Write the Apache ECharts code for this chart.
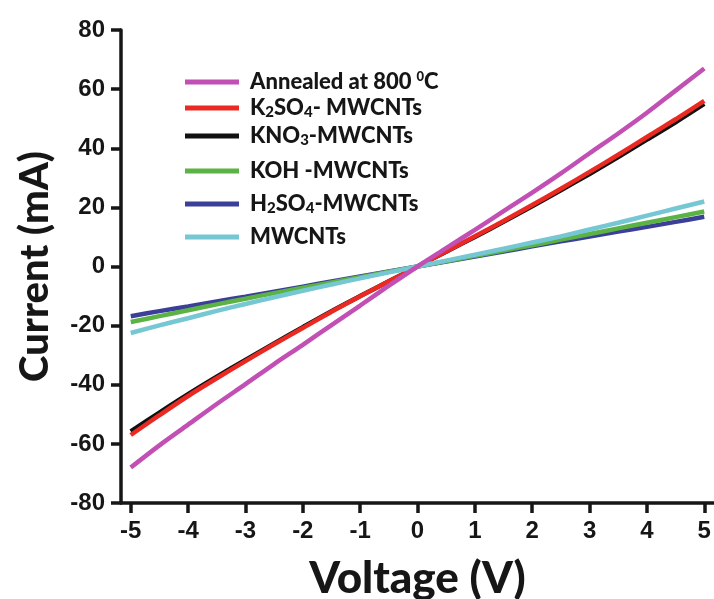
<!DOCTYPE html>
<html>
<head>
<meta charset="utf-8">
<script src="https://cdn.jsdelivr.net/npm/echarts@6/dist/echarts.min.js"></script>
<style>
  html, body { margin: 0; padding: 0; background: #fff; }
  #chart { width: 714px; height: 599px; }
</style>
</head>
<body>
<div id="chart"></div>
<script>
// Sweep voltage (V)
const voltage = [-5, -4.5, -4, -3.5, -3, -2.5, -2, -1.5, -1, -0.5, 0, 0.5, 1, 1.5, 2, 2.5, 3, 3.5, 4, 4.5, 5];

// Measured current (mA) for each sample
const annealed800 = [-68, -60.5, -53.5, -46.5, -39.8, -33, -26.5, -19.8, -13.2, -6.5, 0, 6.2, 12.4, 18.7, 25, 31.5, 38.3, 45, 52, 59.5, 67];
const k2so4 = [-57, -50.3, -43.8, -37.8, -32, -26.3, -20.8, -15.3, -10.1, -5, 0, 5.1, 10.2, 15.4, 20.8, 26.3, 32, 37.8, 43.8, 49.8, 56];
const kno3 = [-55.8, -49.4, -43.2, -37.3, -31.6, -26, -20.5, -15.1, -10, -5, 0, 5, 10, 15.1, 20.4, 25.8, 31.3, 37, 42.9, 48.8, 55];
const koh = [-18.8, -16.8, -14.8, -12.8, -10.9, -9, -7.2, -5.4, -3.6, -1.8, 0, 1.8, 3.6, 5.4, 7.2, 9.1, 11, 12.9, 14.8, 16.7, 18.6];
const h2so4 = [-16.8, -15.1, -13.5, -11.8, -10.2, -8.5, -6.8, -5.1, -3.4, -1.7, 0, 1.7, 3.4, 5.1, 6.8, 8.5, 10.1, 11.8, 13.4, 15.1, 16.8];
const mwcnts = [-22.5, -19.9, -17.5, -15, -12.7, -10.4, -8.2, -6.1, -4, -2, 0, 2, 4, 6, 8.1, 10.2, 12.5, 14.8, 17.2, 19.6, 22];

// Axis ticks
const xTicks = [-5, -4, -3, -2, -1, 0, 1, 2, 3, 4, 5];

const FONT = '"Liberation Sans", Arial, sans-serif';
const TITLE_FONT = 'Lato, "Liberation Sans", sans-serif';
const INK = '#161616';

// Series: name, legend label (rich text), colour, values, legend row centre
const seriesDefs = [
  { name: 'Annealed at 800 0C', label: '{t|Annealed at 800}{sup|0}{t|C}', color: '#c24fb4', values: annealed800, row: 77 },
  { name: 'K2SO4- MWCNTs', label: '{t|K}{sub|2}{t|SO}{sub|4}{t|- MWCNTs}', color: '#ea2a22', values: k2so4, row: 104 },
  { name: 'KNO3-MWCNTs', label: '{t|KNO}{sub|3}{t|-MWCNTs}', color: '#111111', values: kno3, row: 132 },
  { name: 'KOH -MWCNTs', label: '{t|KOH -MWCNTs}', color: '#5cb345', values: koh, row: 167 },
  { name: 'H2SO4-MWCNTs', label: '{t|H}{sub|2}{t|SO}{sub|4}{t|-MWCNTs}', color: '#3b3f98', values: h2so4, row: 200 },
  { name: 'MWCNTs', label: '{t|MWCNTs}', color: '#74c7d3', values: mwcnts, row: 233 }
];

// Drawing order: black under red, magenta on top
const drawOrder = ['KNO3-MWCNTs', 'K2SO4- MWCNTs', 'H2SO4-MWCNTs', 'KOH -MWCNTs', 'MWCNTs', 'Annealed at 800 0C'];

const rich = {
  t: { fontFamily: TITLE_FONT, fontWeight: 900, fontSize: 22, color: INK, lineHeight: 24 },
  sub: { fontFamily: TITLE_FONT, fontWeight: 900, fontSize: 15, color: INK, lineHeight: 15, verticalAlign: 'bottom' },
  sup: { fontFamily: TITLE_FONT, fontWeight: 900, fontSize: 13, color: INK, lineHeight: 13, verticalAlign: 'top', padding: [0, 0, 0, 5] }
};

const legends = seriesDefs.map(d => ({
  data: [d.name],
  left: 180,
  top: d.row - 12,
  orient: 'horizontal',
  icon: 'rect',
  itemWidth: 54,
  itemHeight: 5,
  itemGap: 0,
  selectedMode: false,
  formatter: () => d.label,
  textStyle: { rich: rich, padding: [0, 0, 0, 6] }
}));

const series = drawOrder.map(n => {
  const d = seriesDefs.find(s => s.name === n);
  return {
    name: d.name,
    type: 'line',
    data: voltage.map((v, i) => [v, d.values[i]]),
    showSymbol: false,
    smooth: 0.3,
    color: d.color,
    lineStyle: { width: 4.5, color: d.color },
    itemStyle: { color: d.color },
    emphasis: { disabled: true },
    animation: false
  };
});

const chart = echarts.init(document.getElementById('chart'), null, { renderer: 'canvas' });
chart.setOption({
  backgroundColor: '#ffffff',
  animation: false,
  legend: legends,
  grid: { left: 121, right: 0, top: 30, bottom: 96, containLabel: false, outerBoundsMode: 'none' },
  xAxis: {
    type: 'value',
    min: -5.17,
    max: 5.17,
    name: 'Voltage (V)',
    nameLocation: 'middle',
    nameGap: 54,
    nameTextStyle: { fontFamily: TITLE_FONT, fontWeight: 900, fontSize: 44, color: INK },
    axisLine: { show: true, onZero: false, lineStyle: { color: INK, width: 3.5 } },
    axisTick: { show: true, length: 10, lineStyle: { color: INK, width: 3.5 }, customValues: xTicks },
    axisLabel: { customValues: xTicks, margin: 16, fontFamily: FONT, fontWeight: 'bold', fontSize: 24, color: INK },
    splitLine: { show: false }
  },
  yAxis: {
    type: 'value',
    min: -80,
    max: 80,
    interval: 20,
    name: 'Current (mA)',
    nameLocation: 'middle',
    nameGap: 66,
    nameRotate: 90,
    nameTextStyle: { fontFamily: TITLE_FONT, fontWeight: 900, fontSize: 40, color: INK },
    axisLine: { show: true, onZero: false, lineStyle: { color: INK, width: 3.5 } },
    axisTick: { show: true, length: 10, lineStyle: { color: INK, width: 3.5 } },
    axisLabel: { margin: 16, fontFamily: FONT, fontWeight: 'bold', fontSize: 24, color: INK },
    splitLine: { show: false }
  },
  series: series
});
</script>
</body>
</html>
